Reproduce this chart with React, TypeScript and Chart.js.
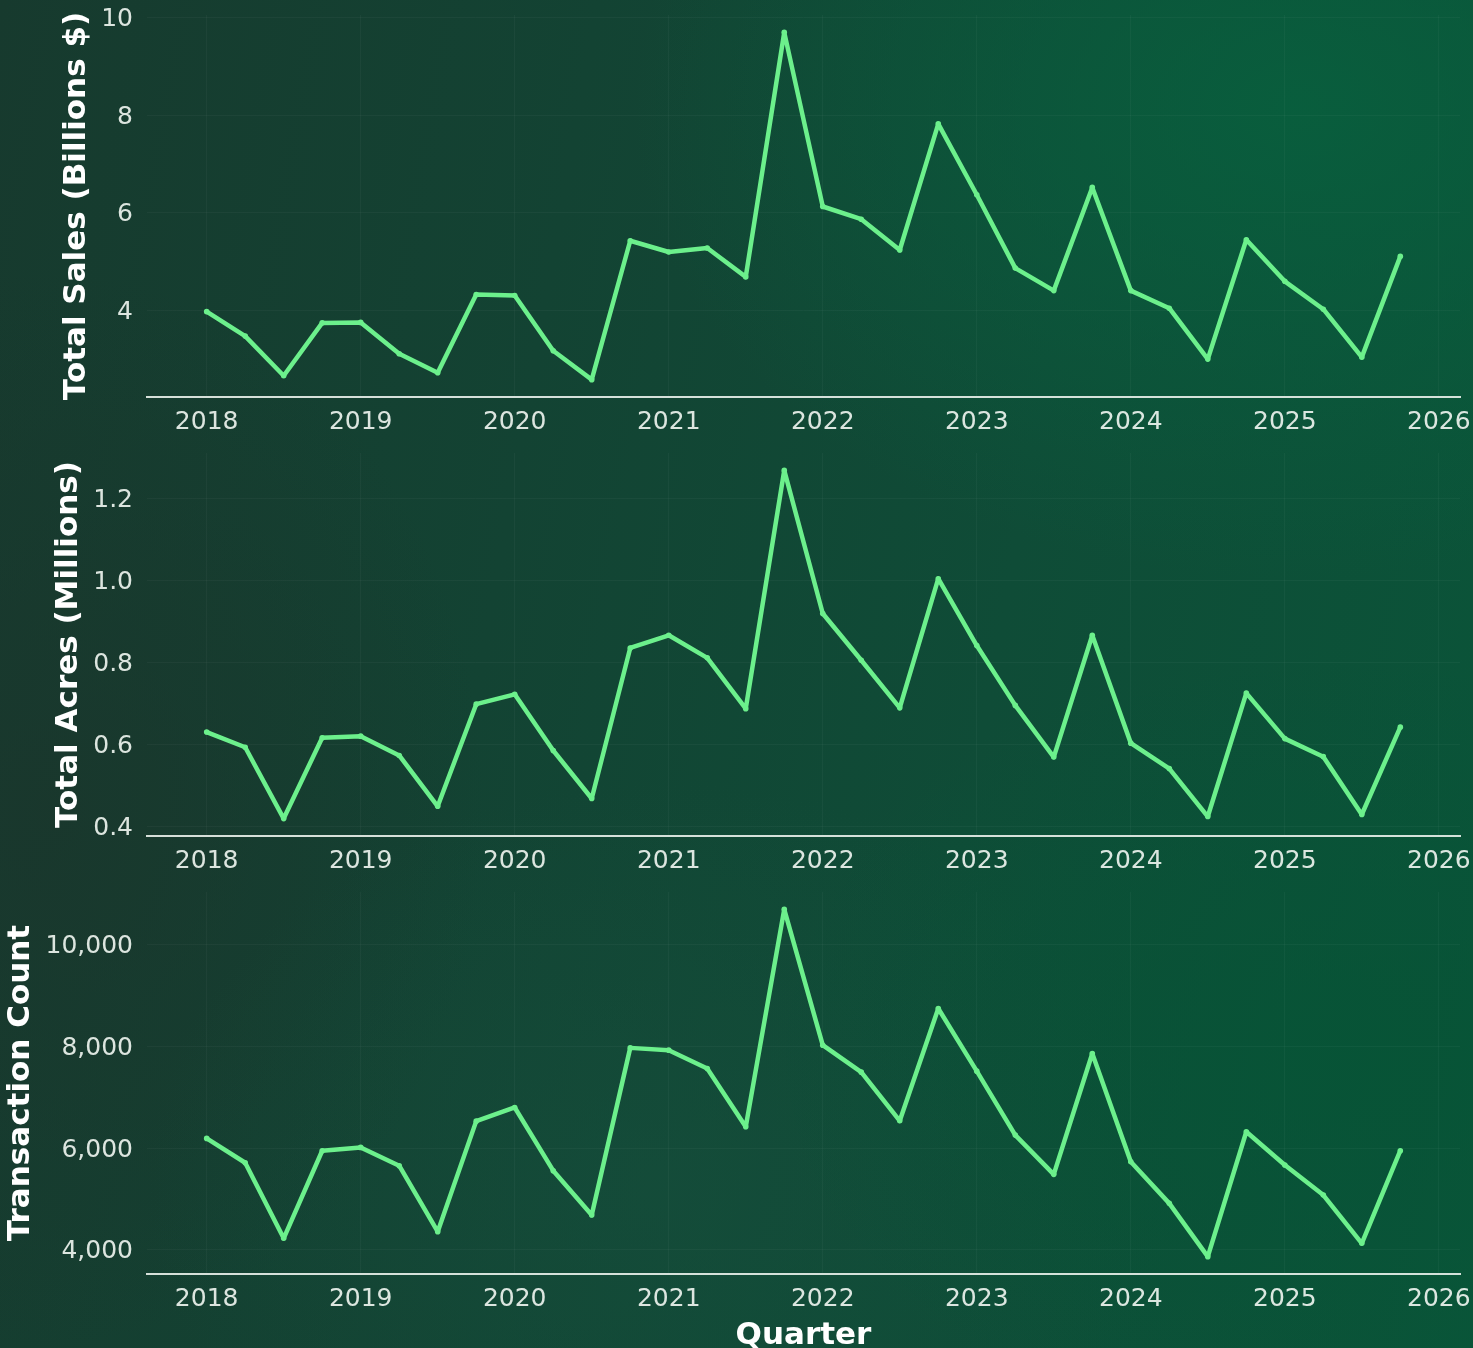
import React, { useEffect, useRef } from 'react';
import { Chart, registerables } from 'chart.js';

Chart.register(...registerables);

// ---------- data ----------
const quarters = [
  '2018 Q1', '2018 Q2', '2018 Q3', '2018 Q4',
  '2019 Q1', '2019 Q2', '2019 Q3', '2019 Q4',
  '2020 Q1', '2020 Q2', '2020 Q3', '2020 Q4',
  '2021 Q1', '2021 Q2', '2021 Q3', '2021 Q4',
  '2022 Q1', '2022 Q2', '2022 Q3', '2022 Q4',
  '2023 Q1', '2023 Q2', '2023 Q3', '2023 Q4',
  '2024 Q1', '2024 Q2', '2024 Q3', '2024 Q4',
  '2025 Q1', '2025 Q2', '2025 Q3', '2025 Q4',
];

const totalSales = [
  3.98, 3.48, 2.67, 3.75, 3.76, 3.12, 2.73, 4.33,
  4.31, 3.18, 2.59, 5.43, 5.2, 5.28, 4.69, 9.69,
  6.13, 5.87, 5.24, 7.82, 6.37, 4.87, 4.41, 6.52,
  4.41, 4.05, 3.01, 5.45, 4.6, 4.03, 3.05, 5.11,
];

const totalAcres = [
  0.63, 0.593, 0.419, 0.616, 0.62, 0.573, 0.449, 0.698,
  0.722, 0.585, 0.468, 0.835, 0.866, 0.811, 0.687, 1.268,
  0.919, 0.805, 0.689, 1.004, 0.841, 0.695, 0.569, 0.866,
  0.603, 0.541, 0.424, 0.725, 0.614, 0.57, 0.429, 0.642,
];

const transactionCount = [
  6190, 5712, 4229, 5948, 6013, 5654, 4359, 6529,
  6797, 5556, 4686, 7967, 7922, 7562, 6418, 10686,
  8020, 7490, 6536, 8739, 7510, 6255, 5484, 7857,
  5732, 4915, 3869, 6320, 5667, 5078, 4131, 5948,
];

const yearTicks = [2018, 2019, 2020, 2021, 2022, 2023, 2024, 2025, 2026];
const salesTicks = [4, 6, 8, 10];
const acresTicks = [0.4, 0.6, 0.8, 1.0, 1.2];
const countTicks = [4000, 6000, 8000, 10000];

// ---------- styles ----------
const FONT = 'DejaVu Sans';
const LINE = '#6cf08c';
const GRID = 'rgba(255,255,255,0.035)';
const AXIS = 'rgba(235,242,236,0.9)';
const TICK = 'rgba(236,242,237,0.93)';

const quarterToX = (q: string) => {
  const [y, qq] = q.split(' Q');
  return Number(y) + (Number(qq) - 1) / 4;
};

const xs = quarters.map(quarterToX);
const xPad = (xs[xs.length - 1] - xs[0]) * 0.05;
const X_MIN = xs[0] - xPad;
const X_MAX = xs[xs.length - 1] + xPad;

type PanelProps = {
  values: number[];
  ticks: number[];
  title: string;
  fmt: (v: number) => string;
  titlePad: number;
  padTop: number;
  xHeight: number;
  height: number;
  top: number;
  showXTitle: boolean;
};

// shift a scale's tick labels vertically by a few pixels
const shiftLabels = (s: any, dy: number) => {
  if (s.__shifted) return;
  s.__shifted = true;
  const orig = s.drawLabels;
  s.drawLabels = function (area: any) {
    const ctx = this.ctx;
    ctx.save();
    ctx.translate(0, dy);
    orig.call(this, area);
    ctx.restore();
  };
};

function Panel(p: PanelProps) {
  const ref = useRef<HTMLCanvasElement | null>(null);
  useEffect(() => {
    if (!ref.current) return;
    const mn = Math.min(...p.values);
    const mx = Math.max(...p.values);
    const pad = (mx - mn) * 0.05;
    const chart = new Chart(ref.current, {
      type: 'line',
      data: {
        datasets: [
          {
            data: p.values.map((v, i) => ({ x: xs[i], y: v })),
            borderColor: LINE,
            backgroundColor: LINE,
            borderWidth: 4.5,
            pointRadius: 2.8,
            pointHoverRadius: 2.8,
            pointBorderWidth: 0,
            tension: 0,
            borderJoinStyle: 'round',
            borderCapStyle: 'round',
          } as any,
        ],
      },
      options: {
        animation: false,
        responsive: false,
        maintainAspectRatio: false,
        events: [],
        layout: { padding: { top: p.padTop, right: 13, bottom: 0, left: 0 } },
        plugins: { legend: { display: false }, tooltip: { enabled: false } },
        scales: {
          x: {
            type: 'linear',
            min: X_MIN,
            max: X_MAX,
            afterBuildTicks: (s: any) => {
              s.ticks = yearTicks.map((v) => ({ value: v }));
            },
            afterFit: (s: any) => {
              s.height = p.xHeight;
              s.paddingLeft = 0;
              s.paddingRight = 0;
            },
            grid: { color: GRID, drawTicks: false, lineWidth: 1 },
            border: { display: true, color: AXIS, width: 2 },
            ticks: {
              color: TICK,
              font: { family: FONT, size: 25 },
              padding: 10,
              maxRotation: 0,
              autoSkip: false,
              callback: (v: any) => String(v),
            },
            title: {
              display: p.showXTitle,
              text: 'Quarter',
              color: '#ffffff',
              font: { family: FONT, size: 31, weight: 'bold', lineHeight: 1 },
              padding: { top: 0, bottom: -3 },
            },
          },
          y: {
            type: 'linear',
            min: mn - pad,
            max: mx + pad,
            afterBuildTicks: (s: any) => {
              s.ticks = p.ticks.map((v) => ({ value: v }));
            },
            afterFit: (s: any) => {
              s.width = 147;
              s.paddingTop = 0;
              s.paddingBottom = 0;
              shiftLabels(s, 2);
            },
            grid: { color: GRID, drawTicks: false, lineWidth: 1 },
            border: { display: false },
            ticks: {
              color: TICK,
              font: { family: FONT, size: 25 },
              padding: 14,
              callback: (v: any) => p.fmt(Number(v)),
            },
            title: {
              display: true,
              text: p.title,
              color: '#ffffff',
              font: { family: FONT, size: 31, weight: 'bold', lineHeight: 1 },
              padding: { top: p.titlePad, bottom: 0 },
            },
          },
        },
      } as any,
    });
    return () => chart.destroy();
  }, []);
  return (
    <canvas
      ref={ref}
      width={1473}
      height={p.height}
      style={{ position: 'absolute', left: 0, top: p.top, width: 1473, height: p.height, display: 'block' }}
    />
  );
}

export default function App() {
  useEffect(() => {
    document.body.style.margin = '0';
    document.body.style.overflow = 'hidden';
  }, []);
  return (
    <div
      style={{
        position: 'absolute',
        left: 0,
        top: 0,
        width: 1473,
        height: 1348,
        overflow: 'hidden',
        background: [
          'radial-gradient(ellipse 45% 35% at 88% 8%, rgba(8,96,62,0.85), rgba(8,96,62,0) 100%)',
          'radial-gradient(ellipse 40% 30% at 92% 78%, rgba(6,84,54,0.8), rgba(6,84,54,0) 100%)',
          'radial-gradient(ellipse 35% 30% at 45% 88%, rgba(22,78,60,0.6), rgba(22,78,60,0) 100%)',
          'radial-gradient(ellipse 30% 40% at 3% 60%, rgba(26,54,44,0.8), rgba(26,54,44,0) 100%)',
          'linear-gradient(100deg, #173a2e 0%, #134333 35%, #0f4c37 65%, #0a5539 100%)',
        ].join(', '),
      }}
    >
      <Panel
        values={totalSales}
        ticks={salesTicks}
        title="Total Sales (Billions $)"
        fmt={(v) => String(Math.round(v))}
        titlePad={61.5}
        padTop={15}
        xHeight={43}
        height={440}
        top={0}
        showXTitle={false}
      />
      <Panel
        values={totalAcres}
        ticks={acresTicks}
        title="Total Acres (Millions)"
        fmt={(v) => v.toFixed(1)}
        titlePad={53.5}
        padTop={13}
        xHeight={44}
        height={440}
        top={440}
        showXTitle={false}
      />
      <Panel
        values={transactionCount}
        ticks={countTicks}
        title="Transaction Count"
        fmt={(v) => Math.round(v).toLocaleString('en-US')}
        titlePad={5.5}
        padTop={12}
        xHeight={74}
        height={468}
        top={880}
        showXTitle={true}
      />
    </div>
  );
}
